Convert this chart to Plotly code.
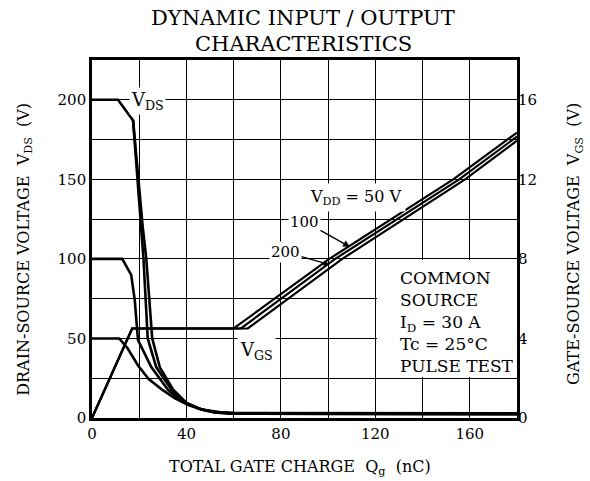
import plotly.graph_objects as go

# ---- data ----
# Drain-source voltage curves (left axis, V) vs total gate charge (nC)
vds200_q = [0, 11, 17.4, 19.5, 21.5, 23, 24.2, 25.5, 28.7, 34.3, 40, 46, 52, 58, 180]
vds200_v = [200, 200, 187, 150, 120, 100, 75, 50, 32, 18, 9.5, 5.5, 3.5, 2.7, 2.4]
vds200b_q = [17.4, 19.3, 20.8, 21.8, 22.7, 23.6, 27.2, 33.6, 40, 46, 52]
vds200b_v = [187, 150, 120, 100, 75, 50, 32, 18, 9.5, 5.5, 3.5]
vds100_q = [0, 12.8, 16.6, 18.1, 19.5, 25.1, 32.2, 38, 45, 52, 60, 180]
vds100_v = [100, 100, 90, 74, 49, 32, 17.7, 10.5, 6, 3.8, 2.8, 2.4]
vds50_q = [0, 11.5, 15, 19.5, 24, 30, 35, 41, 47, 54, 60, 180]
vds50_v = [50, 50, 44, 33, 24.5, 17.5, 12.5, 8, 5.2, 3.8, 3.2, 3.0]

# Gate-source voltage curves (right axis, V)
vgs50_q = [0, 17, 60, 100.5, 153, 180]
vgs50_v = [0, 4.5, 4.5, 8, 12, 14.35]
vgs100_q = [0, 17, 63, 103, 155.5, 180]
vgs100_v = [0, 4.5, 4.5, 8, 12, 14.15]
vgs200_q = [0, 17, 66, 106, 158, 180]
vgs200_v = [0, 4.5, 4.5, 8, 12, 13.95]

x_ticks = [0, 40, 80, 120, 160]
left_ticks = [0, 50, 100, 150, 200]
right_ticks = [0, 4, 8, 12, 16]

FONT = "DejaVu Serif"
LW = 2.6

fig = go.Figure()
for q, v in [(vds200_q, vds200_v), (vds200b_q, vds200b_v), (vds100_q, vds100_v), (vds50_q, vds50_v)]:
    fig.add_trace(go.Scatter(x=q, y=v, mode="lines", line=dict(color="black", width=LW),
                             showlegend=False, hoverinfo="skip"))
for q, v in [(vgs50_q, vgs50_v), (vgs100_q, vgs100_v), (vgs200_q, vgs200_v)]:
    fig.add_trace(go.Scatter(x=q, y=v, mode="lines", yaxis="y2",
                             line=dict(color="black", width=2.2),
                             showlegend=False, hoverinfo="skip"))

grid = dict(showgrid=True, gridcolor="black", gridwidth=1.2)
fig.update_layout(
    width=590, height=481,
    margin=dict(l=92, r=73, t=60, b=63),
    paper_bgcolor="white", plot_bgcolor="white",
    font=dict(family=FONT, color="black", size=15),
    xaxis=dict(range=[0, 180], tickvals=x_ticks, **grid,
               minor=dict(dtick=20, showgrid=True, gridcolor="black", gridwidth=1.2),
               showline=True, mirror=True, linecolor="black", linewidth=2.6,
               ticks="", tickfont=dict(family=FONT, size=15), zeroline=False),
    yaxis=dict(range=[0, 225], tickvals=left_ticks, **grid,
               minor=dict(dtick=25, showgrid=True, gridcolor="black", gridwidth=1.2),
               showline=True, mirror=True, linecolor="black", linewidth=2.6,
               ticks="", tickfont=dict(family=FONT, size=15), zeroline=False),
    yaxis2=dict(range=[0, 18], tickvals=right_ticks, overlaying="y", side="right",
                showgrid=False, showline=False, ticks="", zeroline=False,
                tickfont=dict(family=FONT, size=15)),
)

# white box behind the test-condition note (hides grid)
fig.add_shape(type="rect", xref="x", yref="y", x0=120.7, x1=180, y0=25.8, y1=99.3,
              fillcolor="white", line=dict(width=0), layer="between")

def ann(text, x, y, size=15, **kw):
    d = dict(text=text, x=x, y=y, xref="x", yref="y", showarrow=False,
             font=dict(family=FONT, size=size, color="black"))
    d.update(kw)
    fig.add_annotation(**d)

ann("V<sub>DS</sub>", 23.5, 199, size=18, bgcolor="white", borderpad=1)
ann("V<sub>GS</sub>", 69.5, 42, size=18, bgcolor="white", borderpad=2)
ann("V<sub>DD</sub> = 50 V", 112, 138.5, size=16, bgcolor="white", borderpad=3)
ann("COMMON<br>SOURCE<br>I<sub>D</sub> = 30 A<br>Tc = 25°C<br>PULSE TEST", 129.5, 60.5,
    size=17, align="left", xanchor="left")

# leader arrows
fig.add_annotation(text="100", x=109.3, y=107.5, ax=90, ay=123.5, xref="x", yref="y",
                   axref="x", ayref="y", showarrow=True, arrowhead=2, arrowsize=1,
                   arrowwidth=1.4, arrowcolor="black", bgcolor="white",
                   font=dict(family=FONT, size=15, color="black"))
fig.add_annotation(text="200", x=100.5, y=96.5, ax=82, ay=104.2, xref="x", yref="y",
                   axref="x", ayref="y", showarrow=True, arrowhead=2, arrowsize=0.8,
                   arrowwidth=1.4, arrowcolor="black", bgcolor="white",
                   font=dict(family=FONT, size=15, color="black"))

# title (two lines)
fig.add_annotation(text="DYNAMIC INPUT / OUTPUT", x=0.497, y=1.117, xref="paper", yref="paper",
                   showarrow=False, yanchor="middle", font=dict(family=FONT, size=21, color="black"))
fig.add_annotation(text="CHARACTERISTICS", x=0.497, y=1.045, xref="paper", yref="paper",
                   showarrow=False, yanchor="middle", font=dict(family=FONT, size=21, color="black"))

# axis titles
fig.add_annotation(text="TOTAL GATE CHARGE  Q<sub>g</sub>  (nC)", x=0.49, y=-0.137,
                   xref="paper", yref="paper", showarrow=False, yanchor="middle",
                   font=dict(family=FONT, size=16, color="black"))
fig.add_annotation(text="DRAIN-SOURCE VOLTAGE  V<sub>DS</sub>  (V)", x=-0.19, y=0.472,
                   xref="paper", yref="paper", showarrow=False, textangle=-90,
                   font=dict(family=FONT, size=16, color="black"))
fig.add_annotation(text="GATE-SOURCE VOLTAGE  V<sub>GS</sub>  (V)", x=1.165, y=0.485,
                   xref="paper", yref="paper", showarrow=False, textangle=-90,
                   font=dict(family=FONT, size=16, color="black"))

fig.write_html("out.html", post_script="document.body.style.margin='0';",
               config={"displayModeBar": False})
